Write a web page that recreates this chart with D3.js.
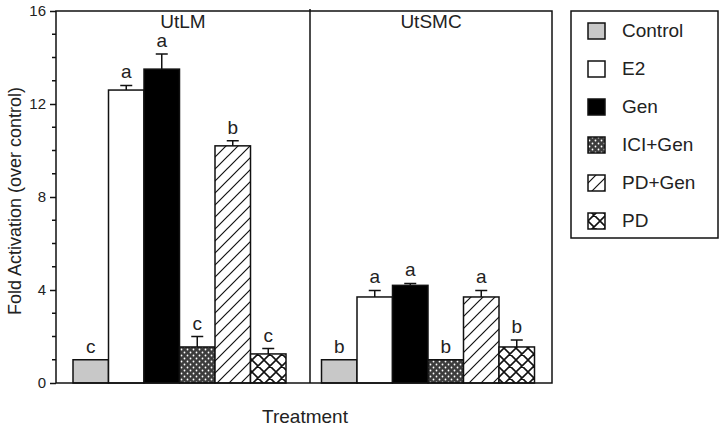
<!DOCTYPE html>
<head>
<meta charset="utf-8">
<style>
body { margin: 0; background: #fff; }
text { font-family: "Liberation Sans", Arial, sans-serif; fill: #222; }
.frame { fill: none; stroke: #111; stroke-width: 1.5px; }
.bar { stroke: #111; stroke-width: 1.5px; }
.err { stroke: #111; stroke-width: 1.5px; fill: none; }
</style>
<body>
<script src="https://cdn.jsdelivr.net/npm/d3@7"></script>
<script>

// data
var panels = ["UtLM", "UtSMC"];
var treatments = ["Control", "E2", "Gen", "ICI+Gen", "PD+Gen", "PD"];
var meanUtLM = [1.0, 12.6, 13.5, 1.55, 10.2, 1.25];
var errUtLM = [0.0, 0.2, 0.65, 0.45, 0.22, 0.23];
var letterUtLM = ["c", "a", "a", "c", "b", "c"];
var meanUtSMC = [1.0, 3.7, 4.2, 1.0, 3.7, 1.55];
var errUtSMC = [0.0, 0.28, 0.08, 0.0, 0.28, 0.3];
var letterUtSMC = ["b", "a", "a", "b", "a", "b"];
var yTicks = [0, 4, 8, 12, 16];
var yMinor = d3.range(0, 17, 1);

var fills = {
  "Control": "#c8c8c8",
  "E2": "#fff",
  "Gen": "#000",
  "ICI+Gen": "url(#dots)",
  "PD+Gen": "url(#hatch)",
  "PD": "url(#cross)"
};

// layout
var W = 720, H = 428;
var plot = {left: 56, right: 552, top: 11, bottom: 383};
var divider = 310;

var svg = d3.select("body").append("svg")
    .attr("width", W)
    .attr("height", H);

// patterns
var defs = svg.append("defs");
var dots = defs.append("pattern").attr("id", "dots")
    .attr("patternUnits", "userSpaceOnUse").attr("width", 6).attr("height", 6);
dots.append("rect").attr("width", 6).attr("height", 6).attr("fill", "#3c3c3c");
dots.append("circle").attr("cx", 1.5).attr("cy", 1.5).attr("r", 0.9).attr("fill", "#fff");
dots.append("circle").attr("cx", 4.5).attr("cy", 4.5).attr("r", 0.9).attr("fill", "#fff");

var hatch = defs.append("pattern").attr("id", "hatch")
    .attr("patternUnits", "userSpaceOnUse").attr("width", 12).attr("height", 12);
hatch.append("rect").attr("width", 12).attr("height", 12).attr("fill", "#fff");
hatch.append("path").attr("d", "M-3,3 L3,-3 M0,12 L12,0 M9,15 L15,9")
    .attr("stroke", "#111").attr("stroke-width", 1.2);

var cross = defs.append("pattern").attr("id", "cross")
    .attr("patternUnits", "userSpaceOnUse").attr("width", 12).attr("height", 12);
cross.append("rect").attr("width", 12).attr("height", 12).attr("fill", "#fff");
cross.append("path").attr("d", "M-3,3 L3,-3 M0,12 L12,0 M9,15 L15,9 M-3,9 L3,15 M0,0 L12,12 M9,-3 L15,3")
    .attr("stroke", "#111").attr("stroke-width", 1.6);

// build rows
var rows = [];
treatments.forEach(function(t, i) {
  rows.push({panel: "UtLM", key: "UtLM|" + t, t: t, v: meanUtLM[i], e: errUtLM[i], l: letterUtLM[i]});
});
treatments.forEach(function(t, i) {
  rows.push({panel: "UtSMC", key: "UtSMC|" + t, t: t, v: meanUtSMC[i], e: errUtSMC[i], l: letterUtSMC[i]});
});

// x: one slot per bar plus one empty slot between the two panels
var slots = rows.slice(0, 6).map(function(d) { return d.key; })
    .concat(["gap"])
    .concat(rows.slice(6).map(function(d) { return d.key; }));
var x = d3.scaleBand().domain(slots).range([73, 534.5]).padding(0);
var y = d3.scaleLinear().domain([0, 16]).range([plot.bottom, plot.top]);

// bars
svg.selectAll(".bar").data(rows).enter().append("rect")
    .attr("class", "bar")
    .attr("x", function(d) { return x(d.key); })
    .attr("width", x.bandwidth())
    .attr("y", function(d) { return y(d.v); })
    .attr("height", function(d) { return y(0) - y(d.v); })
    .attr("fill", function(d) { return fills[d.t]; });

// error bars (upper only)
var errRows = rows.filter(function(d) { return d.e > 0; });
svg.selectAll(".err").data(errRows).enter().append("path")
    .attr("class", "err")
    .attr("d", function(d) {
      var cx = x(d.key) + x.bandwidth() / 2;
      var y0 = y(d.v), y1 = y(d.v + d.e);
      return "M" + cx + "," + y0 + "V" + y1 + "M" + (cx - 6) + "," + y1 + "H" + (cx + 6);
    });

// significance letters
svg.selectAll(".lett").data(rows).enter().append("text")
    .attr("x", function(d) { return x(d.key) + x.bandwidth() / 2; })
    .attr("y", function(d) { return y(d.v + d.e) - 7; })
    .attr("text-anchor", "middle")
    .style("font-size", "19px")
    .text(function(d) { return d.l; });

// frame + divider
svg.append("rect").attr("class", "frame")
    .attr("x", plot.left).attr("y", plot.top)
    .attr("width", plot.right - plot.left).attr("height", plot.bottom - plot.top);
svg.append("line").attr("class", "frame")
    .attr("x1", divider).attr("x2", divider)
    .attr("y1", plot.top - 2).attr("y2", plot.bottom);

// y axis
var yAxis = svg.append("g")
    .attr("transform", "translate(" + plot.left + ",0)")
    .call(d3.axisLeft(y).tickValues(yTicks).tickSize(6).tickPadding(4).tickFormat(d3.format("d")));
yAxis.select(".domain").remove();
yAxis.selectAll("line").attr("stroke", "#111").attr("stroke-width", 1.5);
yAxis.selectAll("text").style("font-size", "15px")
    .style("font-family", "'Liberation Sans', Arial, sans-serif").attr("fill", "#222");

svg.append("g").selectAll("line")
    .data(yMinor.filter(function(v) { return yTicks.indexOf(v) < 0; }))
    .enter().append("line")
    .attr("x1", plot.left - 4).attr("x2", plot.left)
    .attr("y1", function(v) { return y(v); }).attr("y2", function(v) { return y(v); })
    .attr("stroke", "#111").attr("stroke-width", 1.5);

// panel titles
var panelMid = {
  "UtLM": (plot.left + divider) / 2,
  "UtSMC": (divider + plot.right) / 2
};
svg.selectAll(".ptitle").data(panels).enter().append("text")
    .attr("x", function(d) { return panelMid[d]; })
    .attr("y", 28)
    .attr("text-anchor", "middle")
    .style("font-size", "19px")
    .text(function(d) { return d; });

// axis titles
svg.append("text")
    .attr("x", 305).attr("y", 423)
    .attr("text-anchor", "middle")
    .style("font-size", "19px")
    .text("Treatment");

svg.append("text")
    .attr("transform", "translate(21,201) rotate(-90)")
    .attr("text-anchor", "middle")
    .style("font-size", "18px")
    .text("Fold Activation (over control)");

// legend
var legend = svg.append("g");
legend.append("rect").attr("class", "frame")
    .attr("x", 571).attr("y", 11).attr("width", 147).attr("height", 227);
var item = legend.selectAll(".item").data(treatments).enter().append("g")
    .attr("transform", function(d, i) { return "translate(0," + (31 + i * 38) + ")"; });
item.append("rect")
    .attr("x", 588).attr("y", -8).attr("width", 17).attr("height", 16)
    .attr("fill", function(d) { return fills[d]; })
    .attr("stroke", "#111").attr("stroke-width", 1.5);
item.append("text")
    .attr("x", 622).attr("y", 6)
    .style("font-size", "19px")
    .text(function(d) { return d; });

</script>
</body>
